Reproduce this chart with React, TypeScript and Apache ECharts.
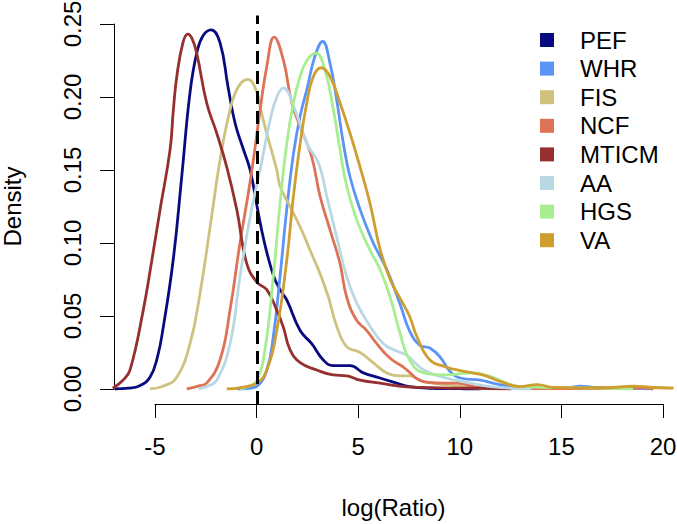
import React, { useEffect, useRef } from "react";
import * as echarts from "echarts";

const seriesNames = ["PEF", "WHR", "FIS", "NCF", "MTICM", "AA", "HGS", "VA"];
const seriesColors = ["#0A0A80", "#5B94F6", "#CFC27E", "#DE7256", "#96302F", "#B8D8E4", "#A6EE90", "#CE9E30"];

const PEF = [[-7.0,0],[-6.33,0.0005],[-5.8,0.002],[-5.27,0.008],[-4.9,0.022],[-4.62,0.042],[-4.13,0.088],[-3.71,0.145],[-3.3,0.203],[-2.97,0.23],[-2.66,0.242],[-2.26,0.246],[-1.82,0.237],[-1.43,0.207],[-1.08,0.182],[-0.67,0.164],[-0.34,0.15],[0,0.125],[0.35,0.101],[0.8,0.078],[1.13,0.068],[1.46,0.061],[2.12,0.04],[2.69,0.031],[3.25,0.02],[3.74,0.016],[4.58,0.016],[5.23,0.011],[6.05,0.0075],[6.87,0.004],[7.5,0.0016],[8.5,0.0005],[10,0.0002],[11,0]];
const WHR = [[-1.0,0],[-0.5,0.0003],[0,0.002],[0.48,0.013],[0.8,0.036],[1.13,0.077],[1.46,0.123],[1.79,0.161],[2.12,0.187],[2.45,0.205],[2.85,0.228],[3.23,0.238],[3.59,0.223],[3.92,0.198],[4.25,0.168],[4.58,0.145],[5.07,0.123],[5.72,0.1],[6.38,0.082],[7.04,0.058],[7.5,0.04],[8.0,0.03],[8.5,0.028],[9.0,0.022],[9.5,0.012],[10,0.0075],[11,0.006],[11.6,0.004],[12.6,0.0016],[14,0.001],[15.3,0.001],[15.9,0.002],[16.6,0.001],[18,0.0005],[19.5,0]];
const FIS = [[-5.27,0],[-4.6,0.002],[-3.95,0.008],[-3.3,0.031],[-2.8,0.066],[-2.31,0.111],[-1.82,0.157],[-1.33,0.191],[-0.92,0.207],[-0.45,0.212],[0,0.203],[0.15,0.193],[0.48,0.175],[0.97,0.15],[1.13,0.139],[1.62,0.125],[2.12,0.111],[2.61,0.095],[3.1,0.079],[3.51,0.063],[3.92,0.043],[4.41,0.029],[5.07,0.025],[5.71,0.018],[6.38,0.011],[7.04,0.009],[7.5,0.009],[8.2,0.005],[9.3,0.003],[10.5,0.001],[12,0]];
const NCF = [[-3.46,0],[-2.9,0.002],[-2.48,0.004],[-1.82,0.02],[-1.33,0.054],[-0.84,0.1],[-0.43,0.134],[-0.18,0.157],[0.15,0.191],[0.48,0.221],[0.84,0.241],[1.3,0.225],[1.71,0.196],[2.2,0.177],[2.69,0.159],[3.1,0.132],[3.59,0.109],[4.08,0.086],[4.41,0.063],[4.9,0.047],[5.4,0.04],[5.89,0.031],[6.55,0.021],[7.2,0.015],[8.2,0.005],[9.1,0.004],[9.8,0.004],[10.9,0.001],[12,0.0003],[14,0.0002],[17,0.0002],[19,0.0008],[19.5,0]];
const MTICM = [[-7.1,0.0005],[-6.6,0.006],[-6.25,0.013],[-5.6,0.054],[-5.18,0.088],[-4.77,0.123],[-4.28,0.164],[-4.12,0.191],[-3.95,0.214],[-3.65,0.237],[-3.41,0.243],[-3.2,0.24],[-2.97,0.23],[-2.48,0.196],[-1.98,0.175],[-1.49,0.152],[-1.0,0.123],[-0.51,0.086],[0,0.073],[0.48,0.068],[0.97,0.054],[1.3,0.042],[1.62,0.027],[2.12,0.018],[2.94,0.013],[3.74,0.0096],[4.41,0.009],[5.07,0.006],[6.05,0.004],[7.37,0.0014],[9,0.0008],[11,0.0005],[12.5,0]];
const AA = [[-2.89,0],[-2.4,0.002],[-1.98,0.006],[-1.33,0.031],[-0.84,0.077],[-0.43,0.111],[0,0.141],[0.15,0.15],[0.64,0.184],[0.97,0.2],[1.3,0.206],[1.87,0.191],[2.45,0.168],[3.02,0.155],[3.43,0.132],[3.92,0.104],[4.41,0.077],[4.9,0.059],[5.56,0.043],[6.22,0.031],[6.87,0.026],[7.37,0.023],[8.2,0.013],[9.3,0.0075],[10.5,0.004],[11.5,0.0016],[12.5,0.0005],[13.5,0]];
const HGS = [[-0.84,0],[-0.4,0.002],[0,0.006],[0.39,0.027],[0.8,0.077],[1.13,0.127],[1.46,0.168],[1.79,0.196],[2.12,0.214],[2.45,0.225],[2.9,0.23],[3.35,0.218],[3.76,0.191],[4.08,0.164],[4.41,0.139],[4.9,0.116],[5.56,0.095],[6.05,0.082],[6.55,0.063],[7.04,0.038],[7.5,0.02],[8.2,0.011],[9.3,0.0096],[10.6,0.011],[11.5,0.0084],[12.3,0.004],[13.1,0.0014],[14.5,0.001],[16,0.0008],[17.5,0.0003],[18.5,0]];
const VA = [[-1.49,0],[-0.8,0.001],[0,0.004],[0.48,0.013],[0.97,0.04],[1.46,0.088],[1.79,0.132],[2.12,0.168],[2.45,0.196],[2.77,0.214],[3.15,0.22],[3.59,0.214],[4.08,0.196],[4.58,0.175],[5.07,0.152],[5.56,0.127],[6.05,0.096],[6.55,0.075],[7.04,0.062],[7.5,0.05],[7.86,0.036],[8.5,0.02],[9.3,0.015],[10.2,0.012],[11.1,0.0096],[12.0,0.005],[12.9,0.0016],[13.8,0.003],[14.6,0.001],[16,0.0008],[17.5,0.001],[18.5,0.002],[19.5,0.001],[20.5,0.0006]];

const seriesData = [PEF, WHR, FIS, NCF, MTICM, AA, HGS, VA];
const refLineX = 0;
const xTickMin = -5;
const xTickMax = 20;
const xTickStep = 5;
const yTickMin = 0;
const yTickMax = 0.25;
const yTickStep = 0.05;

const FONT = "'Liberation Sans', Arial, Helvetica, sans-serif";
const FS = 24;

export default function App() {
  const ref = useRef<HTMLDivElement>(null);
  useEffect(() => {
    const chart = echarts.init(ref.current!, null, { renderer: "svg" });
    const axisLineStyle = { color: "#000", width: 1 };
    const option: any = {
      animation: false,
      backgroundColor: "#fff",
      textStyle: { fontFamily: FONT },
      grid: [
        { left: 114, right: 4, top: 15.5, bottom: 120, outerBoundsMode: "none" },
        { left: 155, right: 14, top: 15.5, bottom: 120, outerBoundsMode: "none" },
        { left: 114, right: 4, top: 24, bottom: 135, outerBoundsMode: "none" },
      ],
      xAxis: [
        {
          gridIndex: 0, type: "value", min: -7.04, max: 20.47,
          axisLine: { show: false }, axisTick: { show: false }, axisLabel: { show: false },
          splitLine: { show: false },
          name: "log(Ratio)", nameLocation: "middle", nameGap: 91,
          nameTextStyle: { fontSize: FS, color: "#000", fontFamily: FONT },
        },
        {
          gridIndex: 1, type: "value", min: xTickMin, max: xTickMax, interval: xTickStep,
          axisLine: { show: true, lineStyle: axisLineStyle },
          axisTick: { show: true, length: 14, lineStyle: axisLineStyle },
          axisLabel: { fontSize: FS, color: "#000", margin: 30, fontFamily: FONT },
          splitLine: { show: false },
        },
        { gridIndex: 2, type: "value", show: false, min: 0, max: 1 },
      ],
      yAxis: [
        { gridIndex: 0, type: "value", min: -0.0103, max: 0.2558, show: false },
        { gridIndex: 1, type: "value", show: false, min: 0, max: 1 },
        {
          gridIndex: 2, type: "value", min: yTickMin, max: yTickMax, interval: yTickStep,
          axisLine: { show: true, lineStyle: axisLineStyle },
          axisTick: { show: true, length: 14, lineStyle: axisLineStyle },
          axisLabel: {
            rotate: 90, fontSize: FS, color: "#000", margin: 30, fontFamily: FONT,
            formatter: (v: number) => v.toFixed(2),
          },
          splitLine: { show: false },
          name: "Density", nameLocation: "middle", nameGap: 90, nameMoveOverlap: false,
          nameTextStyle: { fontSize: FS, color: "#000", fontFamily: FONT },
        },
      ],
      legend: {
        orient: "vertical", left: 540, top: 28, icon: "rect", padding: 0,
        itemWidth: 14, itemHeight: 14, itemGap: 4.6,
        textStyle: { fontSize: FS, color: "#000", fontFamily: FONT, padding: [0, 0, 0, 21] },
        data: seriesNames,
      },
      series: [
        ...seriesNames.map((name, i) => ({
          name, type: "line", xAxisIndex: 0, yAxisIndex: 0,
          data: seriesData[i], showSymbol: false, symbol: "none",
          smooth: 0.45,
          color: seriesColors[i],
          lineStyle: { color: seriesColors[i], width: 2.8 },
          emphasis: { disabled: true },
        })),
        {
          name: "ref", type: "line", xAxisIndex: 0, yAxisIndex: 0, data: [],
          markLine: {
            silent: true, symbol: "none", label: { show: false },
            lineStyle: { color: "#000", width: 3, type: [13, 7] },
            data: [{ xAxis: refLineX }],
          },
        },
      ],
    };
    chart.setOption(option);
    return () => chart.dispose();
  }, []);
  return <div ref={ref} style={{ position: "fixed", left: 0, top: 0, width: 677, height: 524 }} />;
}
